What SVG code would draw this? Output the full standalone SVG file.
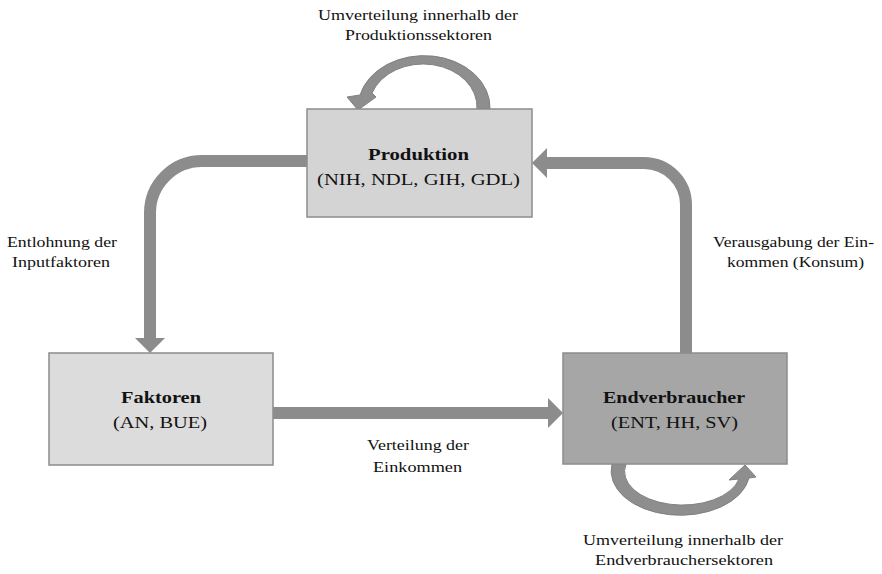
<svg xmlns="http://www.w3.org/2000/svg" width="882" height="574" viewBox="0 0 882 574">
<style>
  .box { stroke: #8c8c8c; stroke-width: 1.5; }
  .lbl { font-family: "Liberation Serif", "Times New Roman", serif; font-size: 14px; fill: #111; }
  .nt { font-family: "Liberation Serif", "Times New Roman", serif; font-size: 17px; fill: #111; }
  .b { font-weight: bold; }
  .flow { fill: none; stroke: #8c8c8c; stroke-width: 12; }
  .curved { fill: #8e8e8e; stroke: #808080; stroke-width: 1; }
</style>
<defs>
  <marker id="head" viewBox="0 0 15 30" markerWidth="15" markerHeight="30" refX="0" refY="15" orient="auto" markerUnits="userSpaceOnUse">
    <path d="M0,0 L15,15 L0,30 Z" fill="#8c8c8c"/>
  </marker>
</defs>
<rect width="882" height="574" fill="#ffffff"/>

<g id="connectors">
  <path class="flow" d="M307 161 H202 A52 52 0 0 0 150 213 V338" marker-end="url(#head)"/>
  <path class="flow" d="M686 353 V205 A42 42 0 0 0 644 163 H547" marker-end="url(#head)"/>
  <path class="flow" d="M273 413 H548" marker-end="url(#head)"/>
  <path class="curved" d="M490 109 A66 52 0 0 0 360 95 L347 97 L358 110 L376 97 L372 93 A54 43 0 0 1 477 109 Z"/>
  <path class="curved" d="M612 464 A69 44 0 0 0 749 478 L756 477 L745 465 L729 480 L739 479 A57 33 0 0 1 626 464 Z"/>
</g>

<g id="produktion">
  <rect class="box" x="307" y="109" width="225" height="108" fill="#d4d4d4"/>
  <text class="nt b" x="368" y="160" textLength="101" lengthAdjust="spacingAndGlyphs">Produktion</text>
  <text class="nt" x="317" y="185" textLength="203" lengthAdjust="spacingAndGlyphs">(NIH, NDL, GIH, GDL)</text>
</g>

<g id="faktoren">
  <rect class="box" x="49" y="353" width="224" height="112" fill="#dcdcdc"/>
  <text class="nt b" x="121" y="403" textLength="80" lengthAdjust="spacingAndGlyphs">Faktoren</text>
  <text class="nt" x="113" y="428" textLength="94" lengthAdjust="spacingAndGlyphs">(AN, BUE)</text>
</g>

<g id="endverbraucher">
  <rect class="box" x="563" y="353" width="224" height="111" fill="#a6a6a6"/>
  <text class="nt b" x="603" y="403" textLength="142" lengthAdjust="spacingAndGlyphs">Endverbraucher</text>
  <text class="nt" x="611" y="428" textLength="127" lengthAdjust="spacingAndGlyphs">(ENT, HH, SV)</text>
</g>

<g id="labels">
  <text class="lbl" x="318" y="20" textLength="200" lengthAdjust="spacingAndGlyphs">Umverteilung innerhalb der</text>
  <text class="lbl" x="345" y="40" textLength="147" lengthAdjust="spacingAndGlyphs">Produktionssektoren</text>
  <text class="lbl" x="7" y="247" textLength="110" lengthAdjust="spacingAndGlyphs">Entlohnung der</text>
  <text class="lbl" x="12" y="267" textLength="98" lengthAdjust="spacingAndGlyphs">Inputfaktoren</text>
  <text class="lbl" x="713" y="247" textLength="161" lengthAdjust="spacingAndGlyphs">Verausgabung der Ein-</text>
  <text class="lbl" x="727" y="267" textLength="137" lengthAdjust="spacingAndGlyphs">kommen (Konsum)</text>
  <text class="lbl" x="367" y="450" textLength="102" lengthAdjust="spacingAndGlyphs">Verteilung der</text>
  <text class="lbl" x="373" y="472" textLength="89" lengthAdjust="spacingAndGlyphs">Einkommen</text>
  <text class="lbl" x="583" y="545" textLength="200" lengthAdjust="spacingAndGlyphs">Umverteilung innerhalb der</text>
  <text class="lbl" x="595" y="565" textLength="178" lengthAdjust="spacingAndGlyphs">Endverbrauchersektoren</text>
</g>
</svg>
